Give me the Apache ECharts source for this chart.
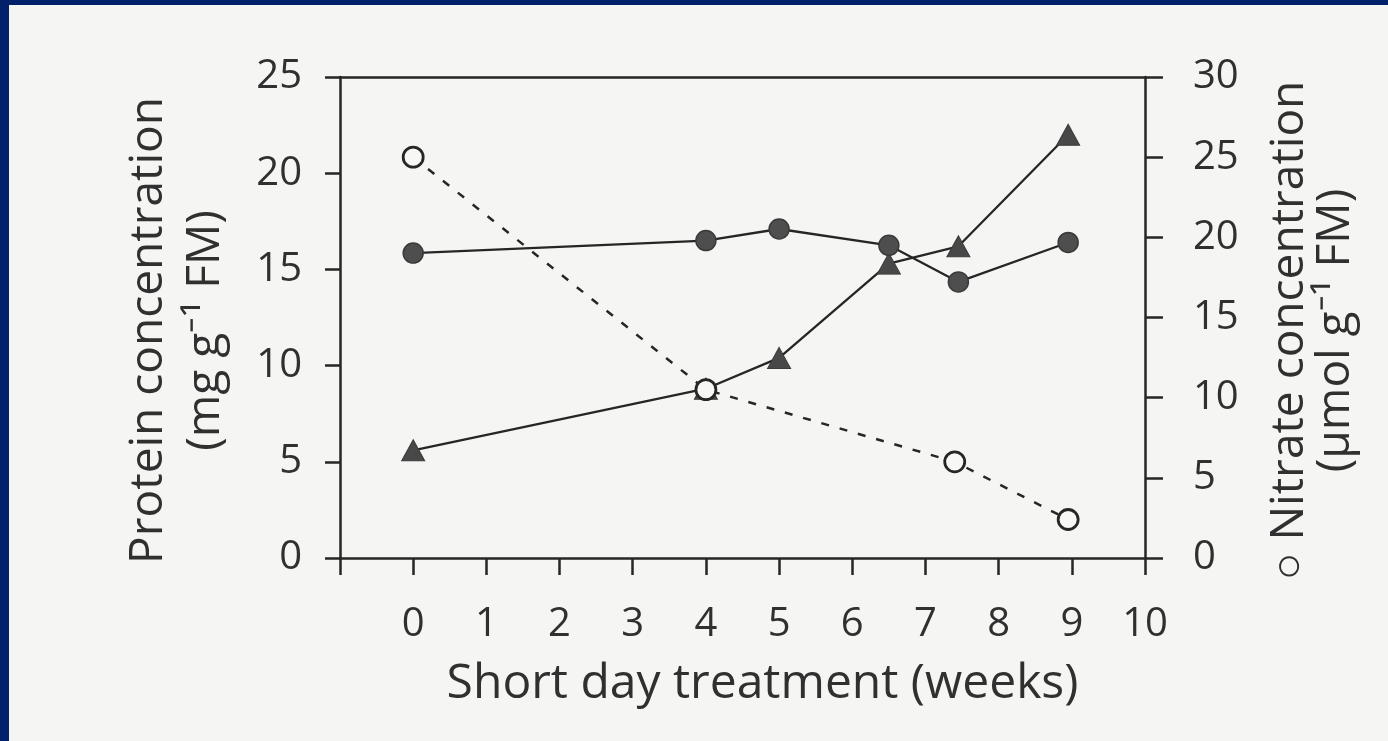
<!DOCTYPE html>
<html>
<head>
<meta charset="utf-8">
<script src="https://cdn.jsdelivr.net/npm/echarts@6/dist/echarts.min.js"></script>
<style>
  html, body { margin: 0; padding: 0; width: 1388px; height: 741px; overflow: hidden; background: #f5f5f3; }
  #chart { position: absolute; left: 0; top: 0; width: 1388px; height: 741px; }
  .frame { position: absolute; background: #03206a; z-index: 5; }
</style>
</head>
<body>
<div id="chart"></div>
<div class="frame" style="left:0;top:0;width:1388px;height:5px;"></div>
<div class="frame" style="left:0;top:0;width:9px;height:741px;"></div>
<script>
// ---- data ----
const xTicks = [-1, 0, 1, 2, 3, 4, 5, 6, 7, 8, 9, 10];            // week ticks (label hidden at -1)
const leftTicks = [0, 5, 10, 15, 20, 25];
const rightTicks = [0, 5, 10, 15, 20, 25, 30];

const weeksCircle = [0, 4, 5, 6.5, 7.45, 8.95];
const proteinCircle = [15.85, 16.5, 17.1, 16.25, 14.35, 16.4];      // filled circles, left axis

const weeksTriangle = [0, 4, 5, 6.5, 7.45, 8.95];
const proteinTriangle = [5.6, 8.8, 10.4, 15.3, 16.2, 22.0];         // filled triangles, left axis

const weeksNitrate = [0, 4, 7.4, 8.95];
const nitrate = [25.0, 10.5, 6.0, 2.4];                             // open circles, right axis

const xName = 'Short day treatment (weeks)';
const leftName = 'Protein concentration\n(mg g\u207B\u00B9 FM)';
const rightName = '\u25CB Nitrate concentration\n(\u03BCmol g\u207B\u00B9 FM)';

// ---- chart ----
const ink = '#262626';
const textCol = '#303030';
const font = 'Open Sans';
const pair = (xs, ys) => xs.map((x, i) => [x, ys[i]]);

const axisLine = { show: true, onZero: false, lineStyle: { color: ink, width: 2.5 } };
const axisTick = { show: true, length: 17, lineStyle: { color: ink, width: 2.5 } };

const chart = echarts.init(document.getElementById('chart'), null, { renderer: 'canvas' });
chart.setOption({
  backgroundColor: '#f5f5f3',
  animation: false,
  grid: { left: 340, right: 243, top: 77, bottom: 183, containLabel: false },
  xAxis: [
    {
      type: 'value', position: 'bottom',
      min: xTicks[0], max: xTicks[xTicks.length - 1], interval: 1,
      axisLine, axisTick, splitLine: { show: false },
      axisLabel: {
        margin: 47, color: textCol, fontFamily: font, fontSize: 40,
        formatter: v => (v < 0 ? '' : String(v))
      },
      name: xName, nameLocation: 'middle', nameGap: 102,
      nameTextStyle: { color: textCol, fontFamily: font, fontSize: 48, padding: [0, 0, 0, 40] }
    },
    {
      type: 'value', position: 'top',
      min: xTicks[0], max: xTicks[xTicks.length - 1], interval: 1,
      axisLine, axisTick: { show: false }, axisLabel: { show: false }, splitLine: { show: false }
    }
  ],
  yAxis: [
    {
      type: 'value', position: 'left',
      min: leftTicks[0], max: leftTicks[leftTicks.length - 1], interval: 5,
      axisLine, axisTick: { show: true, length: 15, lineStyle: { color: ink, width: 2.5 } },
      splitLine: { show: false },
      axisLabel: { margin: 38, color: textCol, fontFamily: font, fontSize: 40 },
      name: leftName, nameLocation: 'middle', nameRotate: 90, nameGap: 106,
      nameTextStyle: { color: textCol, fontFamily: font, fontSize: 46, lineHeight: 57, padding: [0, 26, 0, 0] }
    },
    {
      type: 'value', position: 'right',
      min: rightTicks[0], max: rightTicks[rightTicks.length - 1], interval: 5,
      axisLine, axisTick: { show: true, length: 18, lineStyle: { color: ink, width: 2.5 } },
      splitLine: { show: false },
      axisLabel: { margin: 48, color: textCol, fontFamily: font, fontSize: 40 },
      name: rightName, nameLocation: 'middle', nameRotate: 90, nameGap: 122,
      nameTextStyle: { color: textCol, fontFamily: font, fontSize: 46, lineHeight: 46, padding: [0, 26, 0, 0] }
    }
  ],
  series: [
    {
      name: 'Protein (triangles)', type: 'line', xAxisIndex: 0, yAxisIndex: 0,
      data: pair(weeksTriangle, proteinTriangle),
      symbol: 'triangle', symbolSize: [23, 21],
      lineStyle: { color: ink, width: 2.3 },
      itemStyle: { color: '#484848', borderColor: '#3a3a3a', borderWidth: 1 },
      z: 2
    },
    {
      name: 'Protein (circles)', type: 'line', xAxisIndex: 0, yAxisIndex: 0,
      data: pair(weeksCircle, proteinCircle),
      symbol: 'circle', symbolSize: 20,
      lineStyle: { color: ink, width: 2.3 },
      itemStyle: { color: '#4e4e4e', borderColor: '#3a3a3a', borderWidth: 1.5 },
      z: 3
    },
    {
      name: 'Nitrate', type: 'line', xAxisIndex: 0, yAxisIndex: 1,
      data: pair(weeksNitrate, nitrate),
      symbol: 'circle', symbolSize: 20,
      lineStyle: { color: ink, width: 2.5, type: [8, 11] },
      itemStyle: { color: '#f7f7f5', borderColor: ink, borderWidth: 2.8 },
      z: 4
    }
  ]
});
</script>
</body>
</html>
